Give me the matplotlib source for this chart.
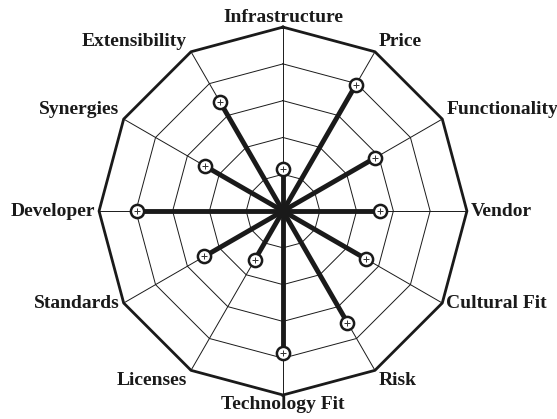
import numpy as np
import matplotlib
matplotlib.use("Agg")
import matplotlib.pyplot as plt

plt.rcParams['font.family'] = ['Liberation Serif', 'DejaVu Serif']

labels = ['Infrastructure', 'Price', 'Functionality', 'Vendor', 'Cultural Fit', 'Risk',
          'Technology Fit', 'Licenses', 'Standards', 'Developer', 'Synergies', 'Extensibility']
values = [1.15, 3.95, 2.9, 2.63, 2.6, 3.5, 3.85, 1.54, 2.47, 3.96, 2.44, 3.43]
rings = [1, 2, 3, 4, 5]
r_max = 5

n = len(labels)
theta = np.arange(n) * 2 * np.pi / n
theta_closed = np.append(theta, theta[0])

fig = plt.figure(figsize=(5.57, 4.19), dpi=100)
ax = fig.add_axes([0.1777, 0.0573, 0.6607, 0.878], projection='polar')
ax.set_theta_zero_location('N')
ax.set_theta_direction(-1)
ax.set_ylim(0, r_max)
ax.grid(False)
ax.spines['polar'].set_visible(False)
ax.set_xticks([])
ax.set_yticks([])
ax.patch.set_visible(False)

# polygon rings
for r in rings:
    lw = 2.0 if r == r_max else 0.7
    ax.plot(theta_closed, [r] * (n + 1), color='#1a1a1a', lw=lw, clip_on=False, zorder=2)

# spokes
for t in theta:
    ax.plot([t, t], [0, r_max], color='#1a1a1a', lw=0.7, zorder=2)

# value lines
for t, v in zip(theta, values):
    ax.plot([t, t], [0, v], color='#1a1a1a', lw=3.5, solid_capstyle='butt', zorder=3)
ax.plot(theta, values, ls='none', marker='o', ms=9.5, mfc='white', mec='#1a1a1a', mew=1.8, zorder=4)
ax.plot(theta, values, ls='none', marker='+', ms=5, mec='#333333', mew=0.7, zorder=5)

# axis labels
align = [('center', 'bottom'), ('left', 'bottom'), ('left', 'bottom'), ('left', 'center'),
         ('left', 'center'), ('left', 'top'), ('center', 'top'), ('right', 'top'),
         ('right', 'center'), ('right', 'center'), ('right', 'bottom'), ('right', 'bottom')]
for t, lab, (ha, va) in zip(theta, labels, align):
    dx = {'left': 3, 'right': -3, 'center': 0}[ha]
    dy = {'bottom': 1, 'top': -1, 'center': 0}[va]
    ax.annotate(lab, xy=(t, r_max), xytext=(dx, dy), textcoords='offset points',
                ha=ha, va=va, fontsize=14, fontweight='bold', color='#1a1a1a')

fig.savefig('out.png', dpi=100)
